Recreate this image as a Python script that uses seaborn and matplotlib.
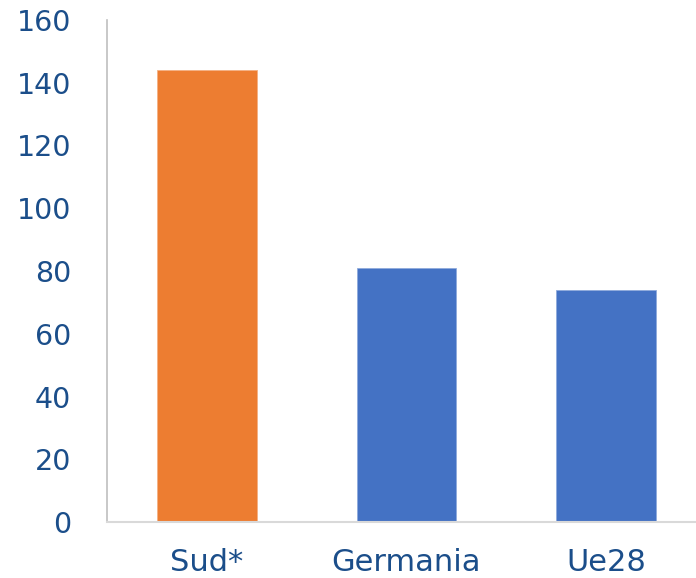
import matplotlib
matplotlib.use("Agg")
import matplotlib.pyplot as plt
import seaborn as sns
import pandas as pd

regions = ["Sud*", "Germania", "Ue28"]
values = [144.2, 81.0, 73.9]
bar_colors = ["#ED7D31", "#4472C4", "#4472C4"]
y_ticks = [0, 20, 40, 60, 80, 100, 120, 140, 160]

text_color = "#1B4E8A"

sns.set_theme(style="white")
plt.rcParams["font.family"] = ["DejaVu Sans"]

df = pd.DataFrame({"region": regions, "value": values})

fig = plt.figure(figsize=(6.96, 5.78), dpi=100)
ax = fig.add_axes([107 / 696, 56 / 578, 589 / 696, 502 / 578])

sns.barplot(data=df, x="region", y="value", hue="region", palette=bar_colors,
            width=0.5, legend=False, ax=ax, saturation=1,
            edgecolor="#8FAADC", linewidth=0.6)
# orange bar gets a lighter orange edge
ax.patches[0].set_edgecolor("#F4B183")

ax.set_xlim(-0.5, 2.45)
ax.set_ylim(0, 160)
ax.set_yticks(y_ticks)
ax.set_xlabel("")
ax.set_ylabel("")

for side in ["top", "right"]:
    ax.spines[side].set_visible(False)
ax.spines["left"].set_color("#BFBFBF")
ax.spines["left"].set_linewidth(1.2)
ax.spines["bottom"].set_color("#D9D9D9")
ax.spines["bottom"].set_linewidth(1.5)

ax.tick_params(axis="y", direction="out", length=5, width=1.2, color="#BFBFBF",
               labelsize=20.5, labelcolor=text_color, pad=21)
ax.tick_params(axis="x", length=0, labelsize=22, labelcolor=text_color, pad=19)

fig.savefig("out.png", dpi=100)
